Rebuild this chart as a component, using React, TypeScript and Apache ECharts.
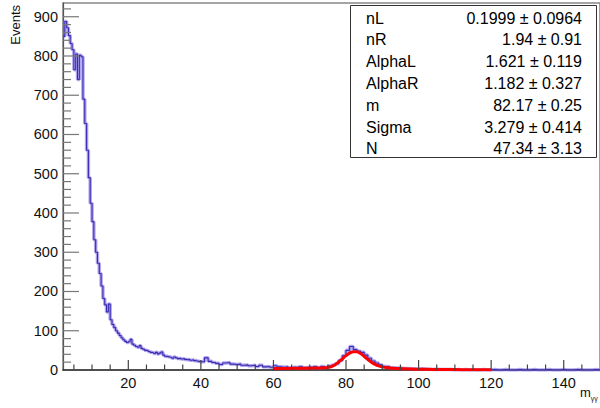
import React, { useEffect, useRef } from "react";
import * as echarts from "echarts";

// Histogram: fine bins (width 0.5) from 2 to 40, coarse bins (width 1) from 40 to 150
const fineStart = 2;
const fineWidth = 0.5;
const fineCounts = [
  850, 888, 872, 852, 832, 816, 765, 805, 740, 802,
  798, 690, 628, 560, 490, 425, 378, 332, 300, 272,
  246, 214, 182, 166, 148, 168, 128, 116, 108, 100,
  94, 88, 82, 77, 73, 70, 72, 78, 66, 63,
  60, 58, 62, 55, 53, 50, 49, 47, 45, 44,
  42, 45, 41, 43, 46, 38, 35, 34, 33, 32,
  30, 33, 31, 29, 30, 28, 29, 27, 26, 27,
  25, 26, 24, 23, 22, 21,
];
const coarseStart = 40;
const coarseWidth = 1;
const coarseCounts = [
  21, 31, 22, 19, 17, 14, 18, 19, 15, 14,
  15, 12, 13, 11, 12, 9, 12, 8, 9, 7,
  11, 8, 7, 8, 6, 7, 6, 8, 6, 7,
  6, 8, 6, 9, 7, 10, 12, 16, 24, 36,
  50, 60, 52, 48, 45, 38, 30, 23, 18, 13,
  9, 8, 6, 5, 5, 4, 4, 3, 3, 2,
  3, 2, 2, 1, 2, 1, 1, 1, 1, 0,
  1, 0, 1, 0, 1, 0, 0, 1, 0, 0,
  1, 0, 0, 1, 0, 0, 0, 1, 0, 0,
  0, 1, 0, 0, 0, 1, 0, 0, 0, 1,
  0, 0, 0, 1, 0, 0, 0, 0, 1, 0,
];

// Fit curve
const fitX = [60, 62, 64, 66, 68, 70, 72, 74, 75, 76, 77, 78, 79, 80, 81, 82, 83, 84, 85, 86, 87, 88, 89, 90, 91, 92, 94, 96, 98, 100, 104, 108, 112, 116, 120];
const fitY = [4, 4, 4.1, 4.2, 4.4, 4.7, 5.1, 5.8, 6.6, 8.5, 13.5, 20.5, 28.5, 36.5, 43, 46.8, 46.5, 42, 35, 27, 20, 14.5, 10.5, 8, 6.3, 5.1, 3.7, 2.9, 2.4, 2, 1.5, 1.2, 0.95, 0.75, 0.6];

// Tick values
const xMajorTicks = [20, 40, 60, 80, 100, 120, 140];
const xMinorTicks = [5, 10, 15, 25, 30, 35, 45, 50, 55, 65, 70, 75, 85, 90, 95, 105, 110, 115, 125, 130, 135, 145];
const yMajorTicks = [100, 200, 300, 400, 500, 600, 700, 800, 900];
const yMinorTicks = [
  20, 40, 60, 80, 120, 140, 160, 180, 220, 240, 260, 280, 320, 340, 360, 380,
  420, 440, 460, 480, 520, 540, 560, 580, 620, 640, 660, 680, 720, 740, 760, 780,
  820, 840, 860, 880, 920,
];

// Stats box
const statNames = ["nL", "nR", "AlphaL", "AlphaR", "m", "Sigma", "N"];
const statValues = [
  "0.1999 \u00B1 0.0964",
  "1.94 \u00B1 0.91",
  "1.621 \u00B1 0.119",
  "1.182 \u00B1 0.327",
  "82.17 \u00B1 0.25",
  "3.279 \u00B1 0.414",
  "47.34 \u00B1 3.13",
];

const yTitle = "Events";
const xTitle = "m";
const xTitleSub = "\u03B3\u03B3";

const X_MIN = 2;
const X_MAX = 150;
const Y_MIN = 0;
const Y_MAX = 935;

const FONT = "Liberation Sans, Arial, Helvetica, sans-serif";

function tickSeries(values: number[], axis: "x" | "y", len: number, color: string) {
  return {
    type: "custom",
    coordinateSystem: "cartesian2d",
    silent: true,
    clip: false,
    z: 6,
    data: values.map((v) => (axis === "x" ? [v, 0] : [X_MIN, v])),
    renderItem: (_params: any, api: any) => {
      const p = api.coord([api.value(0), api.value(1)]);
      const shape =
        axis === "x"
          ? { x1: p[0], y1: p[1], x2: p[0], y2: p[1] - len }
          : { x1: p[0], y1: p[1], x2: p[0] + len, y2: p[1] };
      return { type: "line", shape, style: { stroke: color, lineWidth: 1.2 } };
    },
  };
}

export default function App() {
  const ref = useRef<HTMLDivElement>(null);

  useEffect(() => {
    if (!ref.current) return;
    const chart = echarts.init(ref.current, undefined, { renderer: "svg" });

    const histPoints: number[][] = [];
    fineCounts.forEach((c, i) => histPoints.push([fineStart + i * fineWidth, c]));
    coarseCounts.forEach((c, i) => histPoints.push([coarseStart + i * coarseWidth, c]));
    histPoints.push([
      coarseStart + coarseCounts.length * coarseWidth,
      coarseCounts[coarseCounts.length - 1],
    ]);

    const fitPoints = fitX.map((x, i) => [x, fitY[i]]);

    const rowY0 = 18;
    const rowStep = 21.8;
    const statTexts: any[] = [];
    statNames.forEach((n, i) => {
      statTexts.push({
        type: "text",
        x: 366,
        y: rowY0 + i * rowStep,
        style: { text: n, font: `16px ${FONT}`, fill: "#000", align: "left", verticalAlign: "middle" },
      });
      statTexts.push({
        type: "text",
        x: 582,
        y: rowY0 + i * rowStep,
        style: { text: statValues[i], font: `16px ${FONT}`, fill: "#000", align: "right", verticalAlign: "middle" },
      });
    });

    chart.setOption({
      animation: false,
      backgroundColor: "#fff",
      grid: {
        left: 63,
        top: 3,
        width: 540,
        height: 367,
        show: true,
        borderColor: "#888",
        borderWidth: 1.5,
        containLabel: false,
      },
      xAxis: {
        type: "value",
        min: X_MIN,
        max: X_MAX,
        splitNumber: 7,
        splitLine: { show: false },
        axisLine: { show: true, lineStyle: { color: "#333", width: 1.5 } },
        axisTick: { show: false },
        minorTick: { show: false },
        axisLabel: {
          showMinLabel: false,
          showMaxLabel: false,
          margin: 5,
          color: "#111",
          fontSize: 14.5,
          fontFamily: FONT,
        },
      },
      yAxis: {
        type: "value",
        min: Y_MIN,
        max: Y_MAX,
        interval: 100,
        splitLine: { show: false },
        axisLine: { show: true, lineStyle: { color: "#555", width: 1.2 } },
        axisTick: { show: false },
        axisLabel: {
          showMaxLabel: false,
          margin: 5,
          color: "#111",
          fontSize: 14.5,
          fontFamily: FONT,
        },
      },
      series: [
        {
          type: "line",
          data: histPoints,
          step: "end",
          showSymbol: false,
          symbol: "none",
          lineStyle: { color: "rgba(125,105,225,0.6)", width: 3.5 },
          z: 2,
          silent: true,
        },
        {
          type: "line",
          data: histPoints,
          step: "end",
          showSymbol: false,
          symbol: "none",
          lineStyle: { color: "#3a2cb0", width: 1.1 },
          z: 3,
          silent: true,
        },
        {
          type: "line",
          data: fitPoints,
          smooth: 0.4,
          showSymbol: false,
          symbol: "none",
          lineStyle: { color: "#ff0000", width: 3 },
          z: 4,
          silent: true,
        },
        tickSeries(xMajorTicks, "x", 10, "#444"),
        tickSeries(xMinorTicks, "x", 5.5, "#444"),
        tickSeries(yMajorTicks, "y", 16, "#777"),
        tickSeries(yMinorTicks, "y", 8, "#777"),
      ],
      graphic: [
        {
          type: "text",
          x: 15,
          y: 5,
          rotation: Math.PI / 2,
          style: { text: yTitle, font: `13px ${FONT}`, fill: "#111", align: "right", verticalAlign: "middle" },
        },
        {
          type: "text",
          x: 580,
          y: 386,
          style: {
            text: `{m|${xTitle}}{s|${xTitleSub}}`,
            fill: "#111",
            align: "left",
            verticalAlign: "top",
            rich: {
              m: { fontSize: 13, fontFamily: FONT, fill: "#111", verticalAlign: "bottom" },
              s: { fontSize: 7, fontFamily: FONT, fill: "#111", verticalAlign: "bottom", padding: [0, 0, -3, 0] },
            },
          },
        },
        {
          type: "rect",
          shape: { x: 350.5, y: 5.5, width: 246, height: 152 },
          style: { fill: "#fff", stroke: "#333", lineWidth: 1 },
          z: 10,
        },
        ...statTexts.map((t) => ({ ...t, z: 11 })),
      ],
    });

    return () => chart.dispose();
  }, []);

  return (
    <div
      ref={ref}
      style={{ position: "fixed", left: 0, top: 0, width: 600, height: 408, background: "#fff" }}
    />
  );
}
